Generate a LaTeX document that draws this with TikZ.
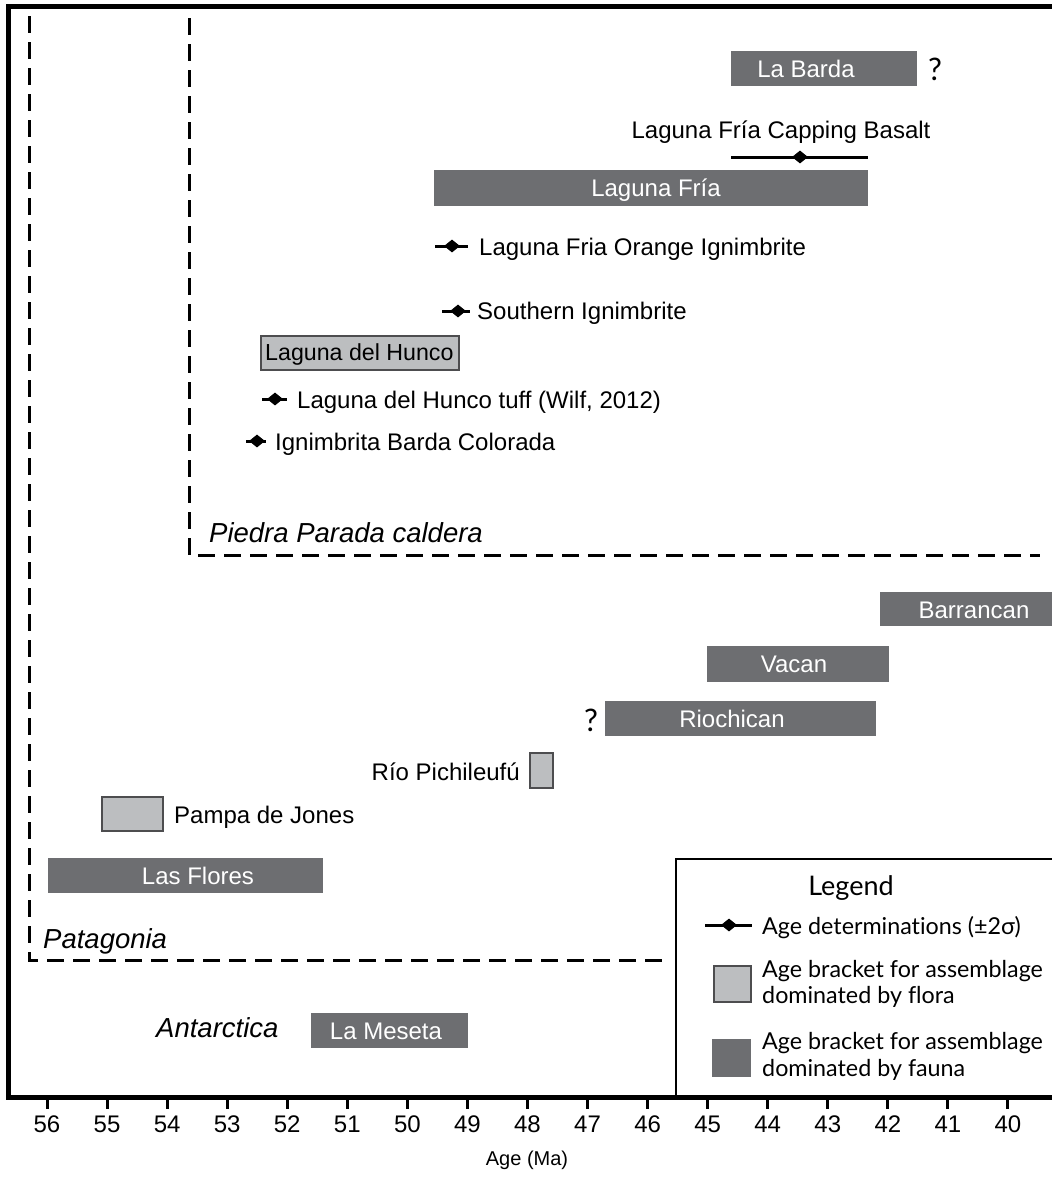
\documentclass[tikz,border=0pt]{standalone}
\usepackage{fontspec}
\setmainfont{Liberation Sans}
\newfontfamily\legendfont[Ligatures=CommonOff]{Lato}
\usetikzlibrary{shapes.geometric}
\definecolor{faunagray}{HTML}{6D6E71}
\definecolor{floragray}{HTML}{BCBEC0}
\definecolor{edgegray}{HTML}{4D4D4F}
\tikzset{
  fauna/.style={fill=faunagray},
  flora/.style={fill=floragray, draw=edgegray, line width=1.2pt},
  boxlabel/.style={text=white},
  datum/.style={shape=diamond, fill=black, text height=0pt, text depth=0pt, minimum width=16pt, minimum height=13pt},
  errbar/.style={line width=3pt},
  region/.style={line width=3pt, dash pattern=on 17pt off 9pt},
  regionlabel/.style={font=\fontsize{27.5}{30}\selectfont\itshape, text height=19.7pt, anchor=west},
  legendtext/.style={font=\legendfont\fontsize{23.3}{26}\selectfont, text height=16.5pt, anchor=west},
  query/.style={font=\legendfont\fontsize{31}{33}\selectfont, text height=22pt},
}
\begin{document}
\begin{tikzpicture}[x=1pt, y=-1pt, line join=miter, every node/.style={inner sep=0pt, text height=17.5pt, text depth=0pt, font=\fontsize{24}{28}\selectfont}]
    \useasboundingbox (0,0) rectangle (1052,1178);
    % frame and axis
    \draw[line width=5pt] (1052,6) -- (8.5,6) -- (8.5,1097) -- (1052,1097);
    \foreach \a in {40,...,56} {
        \draw[line width=3pt] ({47+(56-\a)*60.06},1097) -- ++(0,12);
        \node (tick\a) at ({47+(56-\a)*60.06},1124) {\a};
    }
    \node[font=\fontsize{20}{24}\selectfont, text height=14.3pt] (axislabel) at (527,1158) {Age (Ma)};

    % regions
    \draw[region] (29,16) -- (29,960) -- (663,960);
    \draw[region] (189,18) -- (189,555) -- (1040,555);
    \node[regionlabel] (patagonia) at (43,939) {Patagonia};
    \node[regionlabel] (piedra) at (209,533) {Piedra Parada caldera};
    \node[regionlabel] (antarctica) at (156,1028) {Antarctica};

    % Piedra Parada caldera
    \fill[fauna] (731,51) rectangle (917,86);
    \node[boxlabel] (labarda) at (806,68.5) {La Barda};
    \node[query] (labardaq) at (935,69) {?};
    \node (basaltlabel) at (781,130) {Laguna Fría Capping Basalt};
    \coordinate (basaltlo) at (731,157);
    \coordinate (basalthi) at (868,157);
    \draw[errbar] (basaltlo) -- (basalthi);
    \node[datum] (basalt) at (800,157) {};
    \fill[fauna] (434,170) rectangle (868,206);
    \node[boxlabel] (lagunafria) at (656,188) {Laguna Fría};
    \coordinate (orangelo) at (435,246);
    \coordinate (orangehi) at (468,246);
    \draw[errbar] (orangelo) -- (orangehi);
    \node[datum] (orange) at (452,246) {};
    \node[anchor=west] (orangelabel) at (479,247) {Laguna Fria Orange Ignimbrite};
    \coordinate (southlo) at (442,311);
    \coordinate (southhi) at (470,311);
    \draw[errbar] (southlo) -- (southhi);
    \node[datum] (south) at (458,311) {};
    \node[anchor=west] (southlabel) at (477,311) {Southern Ignimbrite};
    \draw[flora] (261,336) rectangle (459,370);
    \node[anchor=west, font=\fontsize{23.2}{28}\selectfont] (hunco) at (265,352) {Laguna del Hunco};
    \coordinate (tufflo) at (262,399);
    \coordinate (tuffhi) at (287,399);
    \draw[errbar] (tufflo) -- (tuffhi);
    \node[datum] (tuff) at (275,399) {};
    \node[anchor=west] (tufflabel) at (297,400) {Laguna del Hunco tuff (Wilf, 2012)};
    \coordinate (bardalo) at (246,441);
    \coordinate (bardahi) at (266,441);
    \draw[errbar] (bardalo) -- (bardahi);
    \node[datum] (barda) at (257,441) {};
    \node[anchor=west] (bardalabel) at (275,442) {Ignimbrita Barda Colorada};

    % Patagonia
    \fill[fauna] (880,592) rectangle (1052,626);
    \node[boxlabel] (barrancan) at (974,610) {Barrancan};
    \fill[fauna] (707,646) rectangle (889,682);
    \node[boxlabel] (vacan) at (794,664) {Vacan};
    \fill[fauna] (605,701) rectangle (876,736);
    \node[boxlabel] (riochican) at (732,719) {Riochican};
    \node[query] (riochicanq) at (591,720) {?};
    \draw[flora] (530,753) rectangle (553,788);
    \node[anchor=east] (pichileufu) at (520,772) {Río Pichileufú};
    \draw[flora] (102,797) rectangle (163,831);
    \node[anchor=west] (jones) at (174,815) {Pampa de Jones};
    \fill[fauna] (48,858) rectangle (323,893);
    \node[boxlabel] (lasflores) at (198,876) {Las Flores};

    % Antarctica
    \fill[fauna] (311,1013) rectangle (468,1048);
    \node[boxlabel] (lameseta) at (386,1031) {La Meseta};

    % legend
    \draw[line width=2.5pt] (1052,859) -- (676,859) -- (676,1097);
    \node[legendtext, anchor=center, font=\legendfont\fontsize{27}{30}\selectfont, text height=19pt] (legendtitle) at (851,886) {Legend};
    \coordinate (keylo) at (705,925);
    \coordinate (keyhi) at (752,925);
    \draw[errbar] (keylo) -- (keyhi);
    \node[datum] (keydatum) at (729,925) {};
    \node[legendtext] (keyage) at (762,926) {Age determinations (±2σ)};
    \draw[flora] (714,966) rectangle (751,1002);
    \node[legendtext] (keyflora1) at (762,969) {Age bracket for assemblage};
    \node[legendtext] (keyflora2) at (762,995) {dominated by flora};
    \fill[fauna] (712,1039) rectangle (751,1077);
    \node[legendtext] (keyfauna1) at (762,1041) {Age bracket for assemblage};
    \node[legendtext] (keyfauna2) at (762,1068) {dominated by fauna};
\end{tikzpicture}
\end{document}
